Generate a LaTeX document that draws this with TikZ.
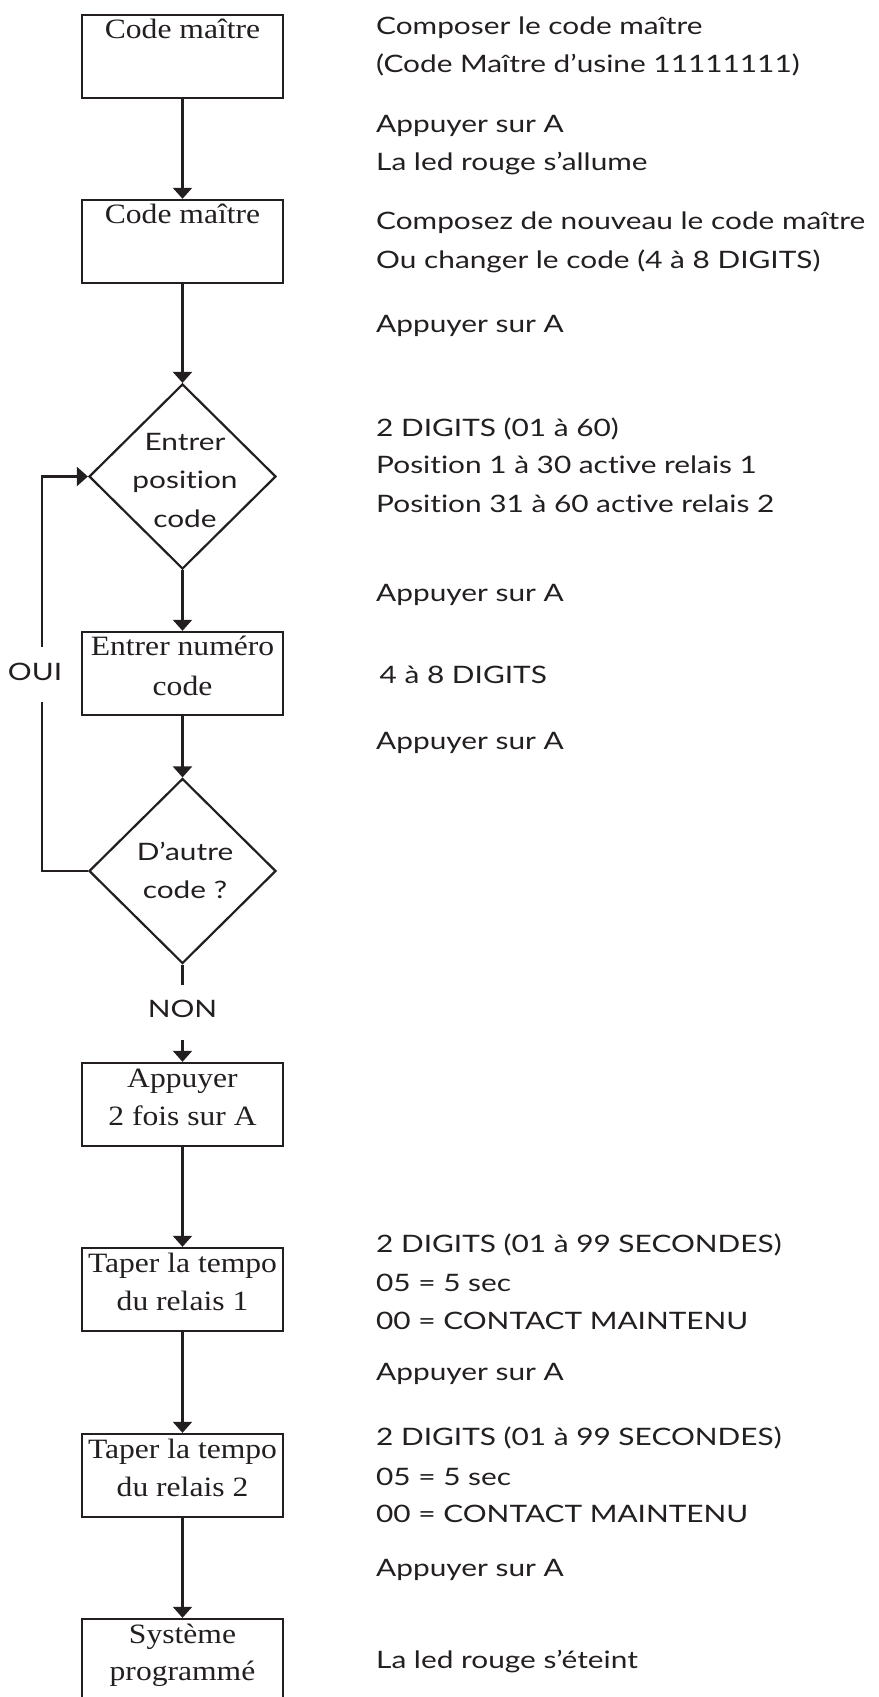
\documentclass[tikz,border=0pt]{standalone}
\usepackage{fontspec}
\usetikzlibrary{shapes.geometric,arrows.meta}
\definecolor{ink}{RGB}{35,31,32}
\newfontfamily\sansraw[Ligatures=NoCommon]{Lato}
\newfontfamily\serifraw{Liberation Serif}
\newlength\mywidth
\settowidth\mywidth{\sansraw\fontsize{24}{30}\selectfont Composez de nouveau le code maître}
\pgfmathsetmacro\sansstretch{489/\mywidth}
\settowidth\mywidth{\serifraw\fontsize{28}{30}\selectfont Taper la tempo}
\pgfmathsetmacro\serifstretch{189/\mywidth}
\edef\tmpdef{\noexpand\newfontfamily\noexpand\mysans[Ligatures=NoCommon,FakeStretch=\sansstretch]{Lato}}\tmpdef
\edef\tmpdef{\noexpand\newfontfamily\noexpand\myserif[FakeStretch=\serifstretch]{Liberation Serif}}\tmpdef
\begin{document}
\begin{tikzpicture}[x=1pt,y=-1pt,
  ln/.style={draw=ink, line width=2.2pt},
  arr/.style={ln, -{Triangle[width=19pt,length=11pt]}},
  boxn/.style={rectangle, draw=ink, line width=2.4pt, minimum width=201pt, minimum height=83pt, inner sep=0pt},
  dia/.style={diamond, draw=ink, line width=2.2pt, minimum width=187pt, minimum height=185pt, inner sep=0pt, aspect=1},
  bt/.style={font=\myserif\fontsize{28}{30}\selectfont, text=ink, anchor=base, inner sep=0pt},
  st/.style={font=\mysans\fontsize{24}{30}\selectfont, text=ink, anchor=base west, inner sep=0pt},
  dt/.style={font=\mysans\fontsize{24}{30}\selectfont, text=ink, anchor=base, inner sep=0pt}
]
\useasboundingbox (0,0) rectangle (878,1697);
\fill[white] (0,0) rectangle (878,1697);

% flow nodes
\node[boxn] (b1) at (182.5,56.5) {};
\node[boxn] (b2) at (182.5,241.5) {};
\node[dia]  (d1) at (182.5,476.5) {};
\node[boxn] (b3) at (182.5,673.5) {};
\node[dia]  (d2) at (182.5,871) {};
\node[boxn] (b4) at (182.5,1104.5) {};
\node[boxn] (b5) at (182.5,1289.5) {};
\node[boxn] (b6) at (182.5,1475.5) {};
\node[boxn] (b7) at (182.5,1660.5) {};

% box texts
\node[bt] (t1)  at (182.5,38)   {Code maître};
\node[bt] (t2)  at (182.5,223)  {Code maître};
\node[bt] (t3a) at (182.5,655)  {Entrer numéro};
\node[bt] (t3b) at (182.5,695)  {code};
\node[bt] (t4a) at (182.5,1087) {Appuyer};
\node[bt] (t4b) at (182.5,1125) {2 fois sur A};
\node[bt] (t5a) at (182.5,1272) {Taper la tempo};
\node[bt] (t5b) at (182.5,1310) {du relais 1};
\node[bt] (t6a) at (182.5,1458) {Taper la tempo};
\node[bt] (t6b) at (182.5,1496) {du relais 2};
\node[bt] (t7a) at (182.5,1643) {Système};
\node[bt] (t7b) at (182.5,1680) {programmé};

% diamond texts
\node[dt] (e1) at (185,450) {Entrer};
\node[dt] (e2) at (185,488) {position};
\node[dt] (e3) at (185,527) {code};
\node[dt] (f1) at (185,860) {D’autre};
\node[dt] (f2) at (185,898) {code ?};

% connectors
\draw[arr] (b1) -- (b2);
\draw[arr] (b2) -- (d1);
\draw[arr] (d1) -- (b3);
\draw[arr] (b3) -- (d2);
\coordinate (nonA) at (182.5,985);
\coordinate (nonB) at (182.5,1040);
\node[dt] (non) at (182.5,1017) {NON};
\draw[ln] (d2.south) -- (nonA);
\draw[arr] (nonB) -- (b4.north);
\coordinate (ouiA) at (42,702);
\coordinate (ouiB) at (42,647);
\node[dt] (oui) at (35,680) {OUI};
\draw[ln] (d2.west) -| (ouiA);
\draw[arr] (ouiB) |- (d1.west);
\draw[arr] (b4) -- (b5);
\draw[arr] (b5) -- (b6);
\draw[arr] (b6) -- (b7);

% right column
\node[st] (r1)  at (376,34)   {Composer le code maître};
\node[st] (r2)  at (376,72.5) {(Code Maître d’usine 11111111)};
\node[st] (r3)  at (376,132)  {Appuyer sur A};
\node[st] (r4)  at (376,170)  {La led rouge s’allume};
\node[st] (r5)  at (376,229)  {Composez de nouveau le code maître};
\node[st] (r6)  at (376,268)  {Ou changer le code (4 à 8 DIGITS)};
\node[st] (r7)  at (376,332)  {Appuyer sur A};
\node[st] (r8)  at (376,436)  {2 DIGITS (01 à 60)};
\node[st] (r9)  at (376,473.5){Position 1 à 30 active relais 1};
\node[st] (r10) at (376,512)  {Position 31 à 60 active relais 2};
\node[st] (r11) at (376,601.5){Appuyer sur A};
\node[st] (r12) at (379.5,683){4 à 8 DIGITS};
\node[st] (r13) at (376,749)  {Appuyer sur A};
\node[st] (r14) at (376,1252) {2 DIGITS (01 à 99 SECONDES)};
\node[st] (r15) at (376,1291) {05 = 5 sec};
\node[st] (r16) at (376,1329) {00 = CONTACT MAINTENU};
\node[st] (r17) at (376,1380) {Appuyer sur A};
\node[st] (r18) at (376,1445.5){2 DIGITS (01 à 99 SECONDES)};
\node[st] (r19) at (376,1485) {05 = 5 sec};
\node[st] (r20) at (376,1522.5){00 = CONTACT MAINTENU};
\node[st] (r21) at (376,1576) {Appuyer sur A};
\node[st] (r22) at (376,1668) {La led rouge s’éteint};
\end{tikzpicture}
\end{document}
